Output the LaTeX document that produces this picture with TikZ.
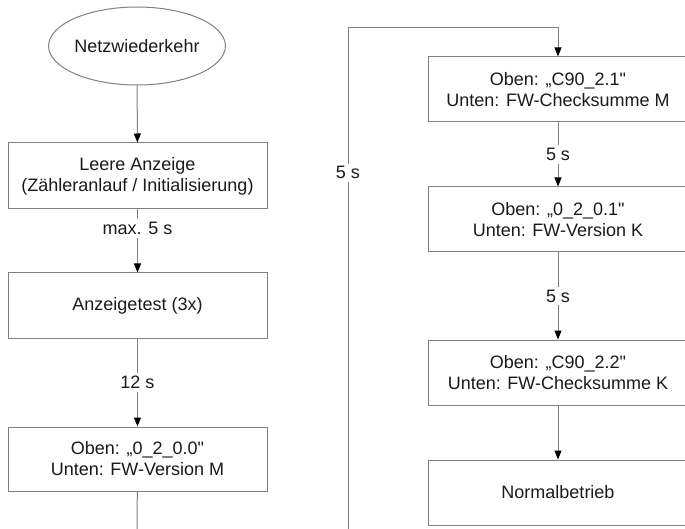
\documentclass[tikz,border=0pt]{standalone}
\usepackage{fontspec}
\setmainfont{Liberation Sans}
\newfontfamily\plainq{Liberation Sans}
\newcommand{\sq}{{\plainq"}}
\usetikzlibrary{shapes.geometric,arrows.meta}
\definecolor{linegray}{HTML}{808080}
\definecolor{txt}{HTML}{1A1A1A}
\begin{document}
\begin{tikzpicture}[x=1pt,y=1pt,
  font=\fontsize{18}{21}\selectfont,
  every node/.style={text=txt},
  box/.style={draw=linegray,line width=1pt,minimum width=259pt,align=center,inner sep=0pt},
  oval/.style={draw=linegray,line width=1pt,ellipse,minimum width=168pt,minimum height=78pt,inner sep=0pt},
  arr/.style={draw=linegray,line width=1pt,-{Triangle[length=9pt,width=7pt,color=black]}},
  ln/.style={draw=linegray,line width=1pt},
  lbl/.style={fill=white,inner sep=3pt}]
\useasboundingbox (0,0) rectangle (685,528);
\clip (0,0) rectangle (685,528);
\node[oval] (e) at (137,482) {Netzwiederkehr};
\node[box,minimum height=66pt] (b1) at (137.5,352) {Leere Anzeige\\(Zähleranlauf / Initialisierung)};
\node[box,minimum height=65pt] (b2) at (137.5,222.5) {Anzeigetest (3x)};
\node[box,minimum height=64pt] (b3) at (137.5,69) {Oben: „0\_2\_0.0\sq\\Unten: FW-Version M};
\node[box,minimum height=65pt] (r1) at (558,438.5) {Oben: „C90\_2.1\sq\\Unten: FW-Checksumme M};
\node[box,minimum height=65pt] (r2) at (558,308.5) {Oben: „0\_2\_0.1\sq\\Unten: FW-Version K};
\node[box,minimum height=65pt] (r3) at (558,155.5) {Oben: „C90\_2.2\sq\\Unten: FW-Checksumme K};
\node[box,minimum height=65pt] (r4) at (558,35.5) {Normalbetrieb};
\coordinate (offL) at (137,-10);
\coordinate (offR) at (348,-10);
\coordinate (topR) at (348,500);
\draw[arr] (e) -- (b1);
\draw[arr] (b1) -- node[lbl,pos=0.3] {max. 5 s} (b2);
\draw[arr] (b2) -- node[lbl] {12 s} (b3);
\draw[ln] (b3) -- (offL);
\draw[ln] (offR) -- node[lbl,pos=0.716] {5 s} (topR);
\draw[arr] (topR) -| (r1);
\draw[arr] (r1) -- node[lbl] {5 s} (r2);
\draw[arr] (r2) -- node[lbl] {5 s} (r3);
\draw[arr] (r3) -- (r4);
\end{tikzpicture}
\end{document}
